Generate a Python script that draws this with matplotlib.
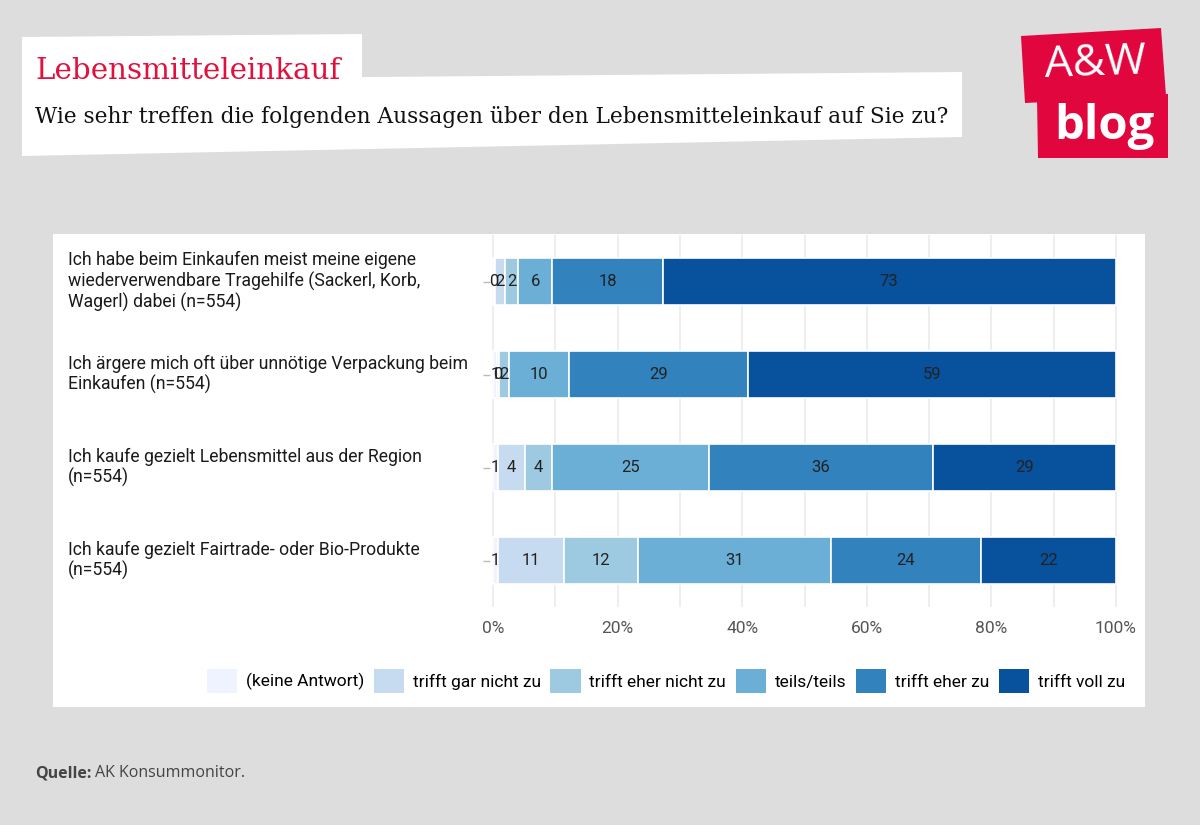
import numpy as np
import matplotlib
matplotlib.use("Agg")
import matplotlib.pyplot as plt
from matplotlib.patches import Polygon, Rectangle, Patch
import matplotlib.transforms as mtransforms

# data (percent shares; labels are the rounded values)
statements = [
    "Ich habe beim Einkaufen meist meine eigene\nwiederverwendbare Tragehilfe (Sackerl, Korb,\nWagerl) dabei (n=554)",
    "Ich ärgere mich oft über unnötige Verpackung beim\nEinkaufen (n=554)",
    "Ich kaufe gezielt Lebensmittel aus der Region\n(n=554)",
    "Ich kaufe gezielt Fairtrade- oder Bio-Produkte\n(n=554)",
]
categories = ["(keine Antwort)", "trifft gar nicht zu", "trifft eher nicht zu",
              "teils/teils", "trifft eher zu", "trifft voll zu"]
keine_antwort = [0.3, 0.6, 0.8, 0.8]
gar_nicht = [1.6, 0.4, 4.3, 10.6]
eher_nicht = [2.1, 1.6, 4.3, 11.8]
teils = [5.5, 9.6, 25.2, 31.0]
eher_zu = [17.7, 28.7, 36.1, 24.2]
voll_zu = [72.8, 59.1, 29.3, 21.6]
colors = ["#eff3ff", "#c6dbef", "#9ecae1", "#6baed6", "#3182bd", "#08519c"]
xticks = [0, 20, 40, 60, 80, 100]

W, H = 1200, 825
fig = plt.figure(figsize=(12, 8.25), dpi=100)
fig.patch.set_facecolor("#dddddd")

# overlay in pixel coordinates for decorations
bg = fig.add_axes([0, 0, 1, 1], zorder=0)
bg.set_xlim(0, W)
bg.set_ylim(H, 0)
bg.axis("off")

# title boxes
bg.add_patch(Polygon([(22, 37), (362, 34), (362, 92), (22, 92)], closed=True,
                     facecolor="white", edgecolor="none"))
bg.add_patch(Polygon([(22, 80), (962, 72), (962, 137), (22, 156)], closed=True,
                     facecolor="white", edgecolor="none"))
bg.text(35, 71, "Lebensmitteleinkauf", color="#e0103f", fontsize=21.2,
        family="DejaVu Serif", va="center", ha="left")
bg.text(35, 117, "Wie sehr treffen die folgenden Aussagen über den Lebensmitteleinkauf auf Sie zu?",
        color="#111111", fontsize=15.6, family="DejaVu Serif", va="center", ha="left")

# logo
red = "#e2063f"
bg.add_patch(Polygon([(1021, 36), (1161, 28), (1166, 96), (1025, 103)], closed=True,
                     facecolor=red, edgecolor="none"))
bg.add_patch(Polygon([(1037, 98), (1168, 94), (1168, 158), (1038, 158)], closed=True,
                     facecolor=red, edgecolor="none"))
bg.text(1095, 64, "A&W", color="white", fontsize=32, family="Open Sans",
        ha="center", va="center", rotation=2)
bg.text(1104, 126, "blog", color="white", fontsize=34, family="Open Sans",
        fontweight="bold", ha="center", va="center")

# white chart panel
bg.add_patch(Rectangle((53, 234), 1092, 473, facecolor="white", edgecolor="none"))

q = bg.text(35, 773, "Quelle:", color="#444444", fontsize=11.5, family="Open Sans",
            fontweight="bold", va="center", ha="left")
renderer = fig.canvas.get_renderer()
q_end = q.get_window_extent(renderer).x1
bg.text(q_end + 4, 773, "AK Konsummonitor.", color="#444444", fontsize=11.5,
        family="Open Sans", va="center", ha="left")

# chart axes
ax = fig.add_axes([490 / W, 1 - 607 / H, (1119 - 490) / W, (607 - 235) / H], zorder=1)
ax.set_facecolor("none")
y = np.arange(len(statements))
series = [keine_antwort, gar_nicht, eher_nicht, teils, eher_zu, voll_zu]
left = np.zeros(len(statements))
for name, vals, col in zip(categories, series, colors):
    vals = np.array(vals)
    bars = ax.barh(y, vals, left=left, height=0.5, color=col, edgecolor="white",
                   linewidth=1.2, label=name, zorder=2)
    ax.bar_label(bars, labels=[str(int(round(v))) for v in vals], label_type="center",
                 fontsize=12, color="#222222", family="Roboto")
    left += vals

ax.set_xlim(-0.5, 100.5)
ax.set_ylim(len(statements) - 0.5, -0.5)
ax.set_xticks(xticks)
ax.set_xticklabels([f"{t}%" for t in xticks], fontsize=12.5, color="#555555", family="Roboto")
ax.set_xticks(np.arange(10, 100, 20), minor=True)
ax.grid(axis="x", which="both", color="#ebebeb", linewidth=1.2, zorder=0)
ax.tick_params(axis="x", which="both", length=0, pad=10)
ax.set_yticks(y)
ax.set_yticklabels([])
ax.tick_params(axis="y", length=5, color="#bbbbbb", width=1)
for s in ax.spines.values():
    s.set_visible(False)

trans = mtransforms.blended_transform_factory(fig.transFigure, ax.transData)
for yi, lab in zip(y, statements):
    ax.text(68 / W, yi, lab, transform=trans, ha="left", va="center", fontsize=12.7,
            color="#1a1a1a", family="Roboto", linespacing=1.15)

handles = [Patch(facecolor=c, edgecolor="none") for c in colors]
fig.legend(handles, categories, loc="center", bbox_to_anchor=(666 / W, 1 - 681 / H),
           ncol=6, frameon=False, prop={"family": "Roboto", "size": 12.5},
           handlelength=1.75, handleheight=1.75, handletextpad=0.5, columnspacing=0.55)

fig.savefig("out.png", dpi=100, facecolor=fig.get_facecolor())
